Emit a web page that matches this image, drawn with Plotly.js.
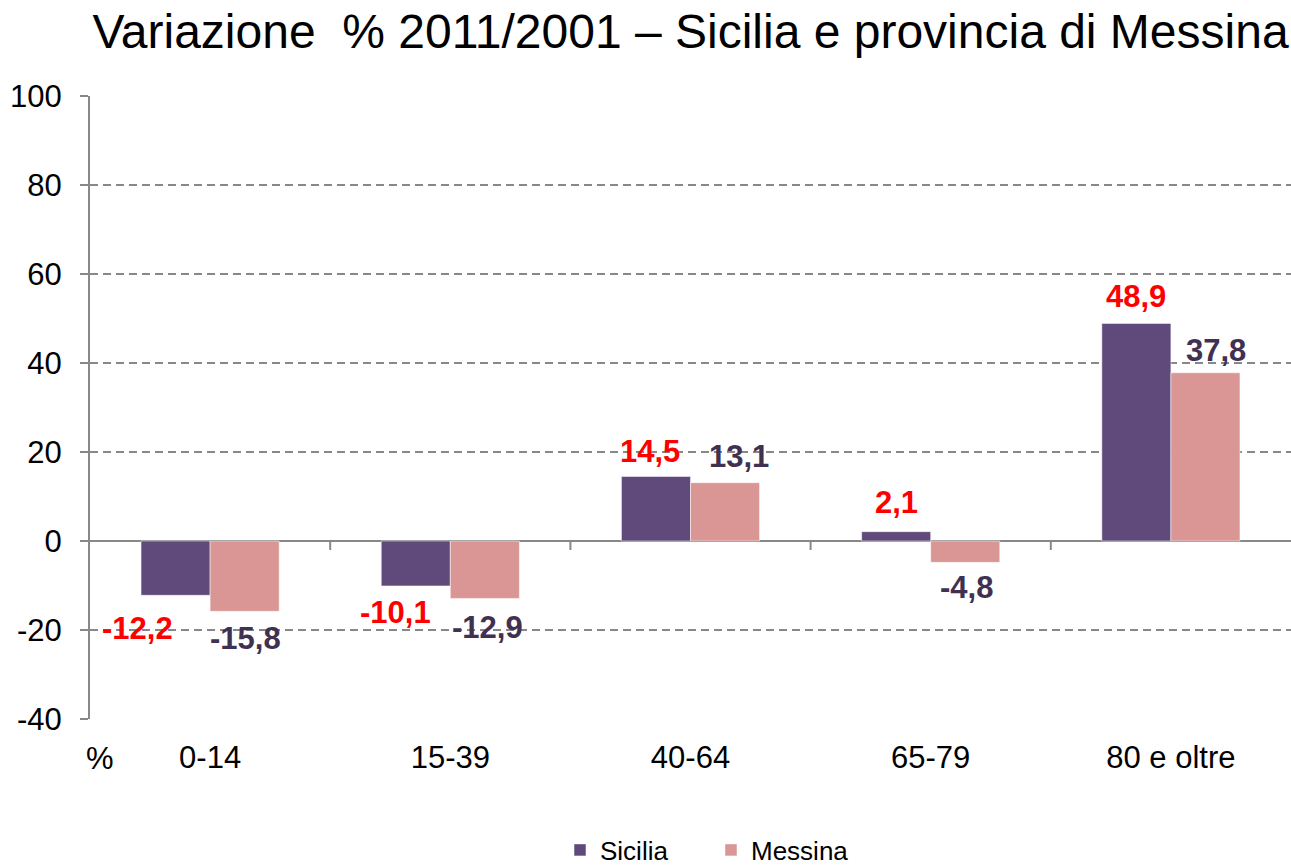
<!DOCTYPE html>
<html>
<head>
<meta charset="utf-8">
<script src="https://cdn.plot.ly/plotly-3.0.1.min.js"></script>
<style>html,body{margin:0;padding:0;background:#fff;}#chart{width:1291px;height:866px;}</style>
</head>
<body>
<div id="chart"></div>
<script>
const categories = ["0-14", "15-39", "40-64", "65-79", "80 e oltre"];
const sicilia = [-12.2, -10.1, 14.5, 2.1, 48.9];
const messina = [-15.8, -12.9, 13.1, -4.8, 37.8];
const seriesNames = ["Sicilia", "Messina"];
const yTicks = [-40, -20, 0, 20, 40, 60, 80, 100];
const titleText = "Variazione\u00A0 % 2011/2001 \u2013 Sicilia e provincia di Messina";

// label nudges (px) to mimic the original placement
const sicNudgeX = [-38, -20, -6, 0, 0];
const sicNudgeY = [33, 27, 25, 29, 27];
const mesNudgeX = [1, 3, 14, 1, 11];
const mesNudgeY = [27, 29, 26, 25, 22];

const FONT = "Liberation Sans, Arial, sans-serif";
const fmt = v => v.toFixed(1).replace(".", ",");

const traces = [
  {type: "bar", name: seriesNames[0], x: categories, y: sicilia,
   marker: {color: "#604A7B", line: {color: "rgba(255,255,255,0.5)", width: 1}}, hoverinfo: "skip"},
  {type: "bar", name: seriesNames[1], x: categories, y: messina,
   marker: {color: "#D99694", line: {color: "rgba(255,255,255,0.5)", width: 1}}, hoverinfo: "skip"}
];

const barOff = 0.14375;
const annotations = [];
categories.forEach((c, i) => {
  const s = sicilia[i], m = messina[i];
  annotations.push({x: i - barOff, y: s, xref: "x", yref: "y", text: "<b>" + fmt(s) + "</b>", showarrow: false,
    xshift: sicNudgeX[i], yshift: s >= 0 ? sicNudgeY[i] : -sicNudgeY[i],
    font: {family: FONT, size: 31, color: "#FF0000"}});
  annotations.push({x: i + barOff, y: m, xref: "x", yref: "y", text: "<b>" + fmt(m) + "</b>", showarrow: false,
    xshift: mesNudgeX[i], yshift: m >= 0 ? mesNudgeY[i] : -mesNudgeY[i],
    font: {family: FONT, size: 31, color: "#403152"}});
});
annotations.push({x: 0, y: 0, xref: "paper", yref: "paper", text: "%", showarrow: false,
  xanchor: "center", yanchor: "middle", xshift: 10, yshift: -39,
  font: {family: FONT, size: 31, color: "#000"}});

// category boundary ticks on the zero line
const shapes = [];
for (let k = 0; k < categories.length - 1; k++) {
  shapes.push({type: "line", xref: "x", yref: "y", x0: k + 0.5, x1: k + 0.5,
    ysizemode: "pixel", yanchor: 0, y0: 0, y1: -9, line: {color: "#888", width: 2}});
}

const layout = {
  width: 1291, height: 866,
  margin: {l: 90, r: 0, t: 96, b: 147, autoexpand: false},
  paper_bgcolor: "#fff", plot_bgcolor: "#fff",
  font: {family: FONT, color: "#000"},
  title: {text: titleText, font: {family: FONT, size: 48, color: "#000"},
    x: 0.5, xref: "paper", xanchor: "center", y: 1 - 31/866, yref: "container", yanchor: "middle"},
  barmode: "group", bargap: 0.425, bargroupgap: 0,
  xaxis: {type: "category", showline: false, ticks: "", showgrid: false, zeroline: false, automargin: false,
    tickangle: 0, ticklabelstandoff: 17, tickfont: {family: FONT, size: 31, color: "#000"}, fixedrange: true},
  yaxis: {range: [-40, 100], tickvals: yTicks, ticktext: yTicks.map(String), automargin: false,
    showline: true, linecolor: "#888", linewidth: 2, ticks: "outside", ticklen: 8, tickwidth: 2, tickcolor: "#888",
    ticklabelstandoff: 12,
    showgrid: true, gridcolor: "#888", gridwidth: 1.5, griddash: "8px,5px",
    zeroline: true, zerolinecolor: "#888", zerolinewidth: 2,
    tickfont: {family: FONT, size: 31, color: "#000"}, fixedrange: true},
  showlegend: true,
  legend: {orientation: "h", xref: "paper", x: (560-90)/1201, xanchor: "left",
    y: (719-850)/623, yanchor: "middle", font: {family: FONT, size: 26, color: "#000"},
    entrywidth: 106, entrywidthmode: "pixels", itemclick: false, itemdoubleclick: false},
  shapes: shapes,
  annotations: annotations
};

Plotly.newPlot("chart", traces, layout, {displayModeBar: false, staticPlot: true});
</script>
</body>
</html>
